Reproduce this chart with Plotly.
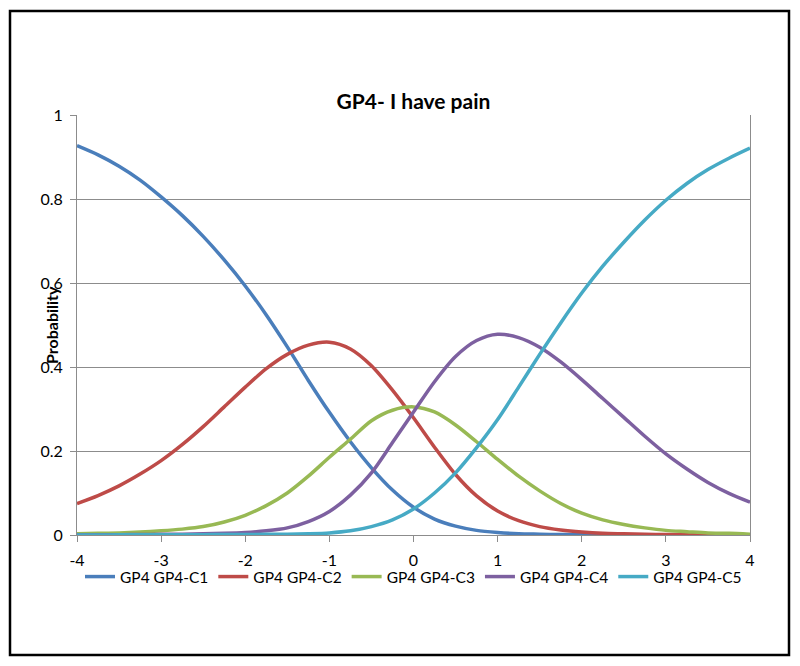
import plotly.graph_objects as go

theta = [-4, -3.75, -3.5, -3.25, -3, -2.75, -2.5, -2.25, -2, -1.75, -1.5, -1.25, -1,
         -0.75, -0.5, -0.25, 0, 0.25, 0.5, 0.75, 1, 1.25, 1.5, 1.75, 2, 2.25, 2.5,
         2.75, 3, 3.25, 3.5, 3.75, 4]

c1 = [0.927, 0.905, 0.878, 0.845, 0.805, 0.761, 0.711, 0.655, 0.593, 0.524, 0.448, 0.368,
      0.292, 0.222, 0.160, 0.107, 0.066, 0.038, 0.021, 0.011, 0.006, 0.003, 0.002, 0.001,
      0.001, 0.0005, 0.0003, 0.0002, 0.0001, 0.0001, 0.0, 0.0, 0.0]
c2 = [0.075, 0.094, 0.117, 0.145, 0.177, 0.215, 0.258, 0.305, 0.352, 0.396, 0.430, 0.452,
      0.459, 0.443, 0.403, 0.345, 0.279, 0.209, 0.144, 0.093, 0.057, 0.034, 0.020, 0.012,
      0.007, 0.004, 0.003, 0.002, 0.001, 0.001, 0.0005, 0.0003, 0.0002]
c3 = [0.003, 0.004, 0.005, 0.007, 0.010, 0.014, 0.020, 0.031, 0.047, 0.070, 0.100, 0.140,
      0.185, 0.228, 0.272, 0.297, 0.305, 0.293, 0.262, 0.222, 0.180, 0.140, 0.105, 0.075,
      0.052, 0.036, 0.025, 0.017, 0.011, 0.008, 0.005, 0.004, 0.002]
c4 = [0.0003, 0.0005, 0.0008, 0.001, 0.0015, 0.002, 0.003, 0.004, 0.006, 0.010, 0.017, 0.032,
      0.056, 0.095, 0.148, 0.220, 0.293, 0.365, 0.425, 0.463, 0.478, 0.470, 0.447, 0.412,
      0.370, 0.325, 0.280, 0.235, 0.193, 0.157, 0.125, 0.099, 0.078]
c5 = [0.0002, 0.0002, 0.0003, 0.0004, 0.0005, 0.0006, 0.0008, 0.001, 0.001, 0.0015, 0.002,
      0.003, 0.005, 0.010, 0.020, 0.036, 0.062, 0.100, 0.148, 0.208, 0.275, 0.352, 0.430,
      0.505, 0.576, 0.640, 0.697, 0.750, 0.797, 0.837, 0.870, 0.897, 0.921]

names = ["GP4 GP4-C1", "GP4 GP4-C2", "GP4 GP4-C3", "GP4 GP4-C4", "GP4 GP4-C5"]
colors = ["#4A7EBB", "#BE4B48", "#98B954", "#7D60A0", "#46AAC5"]
series = [c1, c2, c3, c4, c5]

x_ticks = [-4, -3, -2, -1, 0, 1, 2, 3, 4]
y_ticks = [0, 0.2, 0.4, 0.6, 0.8, 1]
y_tick_labels = ["0", "0.2", "0.4", "0.6", "0.8", "1"]

FONT = "Lato"
# page body has an 8px margin; figure sized to fit the 800x666 window
W, H = 792, 658
PL, PR, PT, PB = 69, 742, 107, 527   # plot area edges in figure pixels
L, R, T, B = PL, W - PR, PT, H - PB
PW, PH = PR - PL, PB - PT

fig = go.Figure()
for name, col, ys in zip(names, colors, series):
    fig.add_trace(go.Scatter(x=theta, y=ys, mode="lines", name=name,
                             line=dict(color=col, width=3.5, shape="spline", smoothing=0.8)))

fig.update_layout(
    width=W, height=H,
    margin=dict(l=L, r=R, t=T, b=B, pad=0),
    paper_bgcolor="white", plot_bgcolor="white",
    font=dict(family=FONT, color="black"),
    title=dict(text="<b>GP4- I have pain</b>", x=0.5, xref="paper", xanchor="center",
               y=1 - 94 / H, yref="container", yanchor="middle",
               font=dict(family=FONT, size=21, color="black")),
    showlegend=True,
    legend=dict(orientation="h", x=0.5, xanchor="center", y=(PB - 569) / PH,
                yanchor="middle", font=dict(family=FONT, size=15.5, color="black"),
                itemwidth=30, bgcolor="rgba(0,0,0,0)"),
    xaxis=dict(range=[-4, 4], tickvals=x_ticks, ticktext=[str(v) for v in x_ticks],
               showgrid=False, zeroline=False, showline=True, linecolor="#8c8c8c",
               linewidth=1, ticks="outside", ticklen=6, tickcolor="#8c8c8c",
               ticklabelstandoff=5,
               tickfont=dict(family=FONT, size=16, color="black")),
    yaxis=dict(range=[0, 1], tickvals=y_ticks, ticktext=y_tick_labels,
               showgrid=True, gridcolor="#8c8c8c", gridwidth=1, zeroline=False,
               showline=True, linecolor="#8c8c8c", linewidth=1, mirror=True,
               ticks="outside", ticklen=6, tickcolor="#8c8c8c", ticklabelstandoff=4,
               tickfont=dict(family=FONT, size=16, color="black")),
)

fig.add_annotation(text="<b>Probability</b>", textangle=-90, xref="paper", yref="paper",
                   x=(43 - PL) / PW, y=0.5, xanchor="center", yanchor="middle",
                   showarrow=False, font=dict(family=FONT, size=16, color="black"))

fig.add_shape(type="rect", xref="paper", yref="paper",
              x0=(2 - PL) / PW, x1=(781 - PL) / PW,
              y0=(PB - 647) / PH, y1=(PB - 3) / PH,
              line=dict(color="black", width=2.5), fillcolor="rgba(0,0,0,0)", layer="above")

fig.write_html("out.html")
